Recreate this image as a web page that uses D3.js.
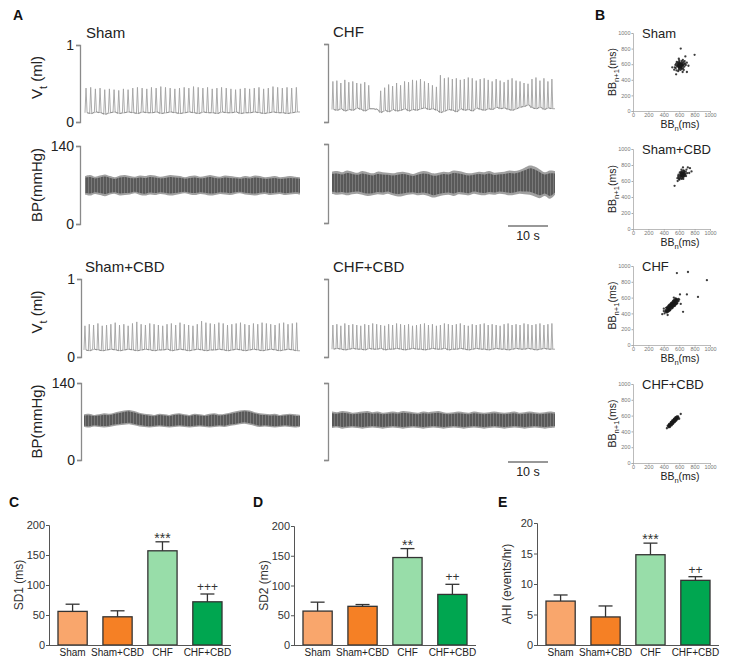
<!DOCTYPE html>
<html><head><meta charset="utf-8">
<script src="https://cdn.jsdelivr.net/npm/d3@7"></script>
<style>body{margin:0;background:#fff}</style>
</head><body><svg id="c" width="729" height="665"></svg>
<script>
// ---------------- DATA ----------------
const groups = ["Sham","Sham+CBD","CHF","CHF+CBD"];
const barColors = ["#F9A66C","#F58025","#98DDA9","#00A650"];
const sd1Mean = [56,47,157,72], sd1Err = [12,10,15,13], sd1Sig = ["","","***","+++"];
const sd2Mean = [57,65,147,85], sd2Err = [15,3,15,17], sd2Sig = ["","","**","++"];
const ahiMean = [7.2,4.6,14.8,10.6], ahiErr = [1.0,1.8,1.9,0.6], ahiSig = ["","","***","++"];
const sdTicks = [0,50,100,150,200], ahiTicks = [0,5,10,15,20];
const bbTicks = [0,200,400,600,800,1000];

// tidal volume, per-breath peak and trough (ml)
const shamVtPk = [0.44,0.45,0.43,0.44,0.42,0.43,0.42,0.41,0.43,0.42,0.44,0.45,0.44,0.43,0.45,0.44,0.46,0.45,0.44,0.43,0.44,0.45,0.44,0.46,0.45,0.44,0.45,0.43,0.44,0.45,0.44,0.43,0.42,0.43,0.44,0.43,0.44,0.45,0.43,0.44,0.46,0.45,0.44,0.45,0.44,0.45];
const shamVtTr = [0.12,0.11,0.13,0.12,0.10,0.12,0.13,0.11,0.12,0.13,0.12,0.11,0.13,0.12,0.12,0.13,0.11,0.12,0.13,0.12,0.11,0.12,0.13,0.12,0.11,0.13,0.12,0.12,0.11,0.13,0.12,0.12,0.13,0.11,0.12,0.12,0.13,0.12,0.11,0.12,0.13,0.12,0.12,0.11,0.12,0.13];
const chfVtPk = [0.52,0.53,0.50,0.54,0.51,0.52,0.50,0.49,0.51,0.47,0.17,0.17,0.40,0.44,0.48,0.46,0.50,0.47,0.52,0.51,0.54,0.53,0.55,0.52,0.50,0.47,0.45,0.60,0.56,0.57,0.55,0.56,0.54,0.55,0.57,0.56,0.53,0.55,0.56,0.54,0.52,0.55,0.53,0.51,0.54,0.56,0.53,0.52,0.50,0.49,0.55,0.57,0.53,0.56,0.52,0.55];
const chfVtTr = [0.16,0.15,0.17,0.14,0.16,0.15,0.18,0.16,0.14,0.17,0.17,0.16,0.12,0.15,0.13,0.16,0.14,0.15,0.17,0.14,0.16,0.15,0.17,0.18,0.16,0.17,0.15,0.12,0.14,0.16,0.15,0.13,0.17,0.15,0.16,0.14,0.18,0.16,0.15,0.17,0.16,0.19,0.17,0.18,0.16,0.15,0.17,0.19,0.20,0.22,0.18,0.17,0.19,0.16,0.18,0.17];
const shamCbdVtPk = [0.40,0.42,0.41,0.43,0.40,0.41,0.42,0.44,0.41,0.42,0.40,0.43,0.45,0.42,0.41,0.43,0.42,0.41,0.40,0.42,0.43,0.41,0.44,0.42,0.41,0.40,0.42,0.46,0.44,0.43,0.42,0.44,0.43,0.41,0.42,0.43,0.44,0.42,0.41,0.43,0.42,0.44,0.43,0.42,0.41,0.43,0.44,0.42,0.43,0.44];
const shamCbdVtTr = [0.09,0.08,0.10,0.09,0.08,0.09,0.10,0.09,0.08,0.09,0.10,0.09,0.08,0.09,0.10,0.09,0.08,0.09,0.09,0.10,0.08,0.09,0.10,0.09,0.08,0.09,0.10,0.09,0.08,0.09,0.09,0.10,0.09,0.08,0.09,0.10,0.09,0.08,0.09,0.10,0.09,0.08,0.09,0.10,0.09,0.08,0.09,0.10,0.09,0.08];
const chfCbdVtPk = [0.41,0.42,0.40,0.43,0.41,0.42,0.41,0.40,0.42,0.41,0.43,0.42,0.41,0.40,0.42,0.41,0.43,0.42,0.41,0.42,0.40,0.41,0.42,0.43,0.41,0.42,0.40,0.41,0.43,0.42,0.41,0.42,0.43,0.41,0.40,0.42,0.41,0.42,0.43,0.41,0.42,0.41,0.40,0.42,0.43,0.41,0.42,0.41,0.43,0.42,0.41,0.42,0.43,0.41,0.42,0.43];
const chfCbdVtTr = [0.10,0.11,0.10,0.09,0.10,0.11,0.10,0.10,0.09,0.11,0.10,0.10,0.11,0.09,0.10,0.10,0.11,0.10,0.09,0.10,0.11,0.10,0.10,0.09,0.10,0.11,0.10,0.10,0.11,0.09,0.10,0.10,0.11,0.10,0.09,0.10,0.11,0.10,0.10,0.09,0.10,0.11,0.10,0.10,0.09,0.10,0.11,0.10,0.10,0.11,0.10,0.09,0.10,0.11,0.10,0.10];

// blood pressure envelope (mmHg), upper and lower
const shamBpHi = [86,88,85,87,89,86,84,87,88,86,85,87,86,88,87,85,86,88,87,86,84,86,87,85,86,88,86,85,87,86,85,84,86,85,87,86,84,85,86,84,85,86,85,84];
const shamBpLo = [53,51,54,52,50,53,54,51,52,53,55,52,51,53,52,54,53,51,52,54,55,53,52,54,53,51,52,54,53,52,54,55,53,52,51,53,54,52,53,54,52,53,54,53];
const chfBpHi = [91,92,90,93,91,89,92,90,88,91,90,89,88,90,91,89,87,90,92,91,88,89,91,90,93,92,90,88,89,91,90,92,89,90,91,93,92,94,98,102,100,95,90,93,92];
const chfBpLo = [52,50,51,49,51,52,50,48,49,51,50,52,49,47,48,50,51,49,50,48,45,47,49,50,48,51,50,49,52,50,49,51,50,52,51,49,50,52,51,50,47,44,48,43,50];
const shamCbdBpHi = [83,84,82,83,85,84,86,88,90,91,89,86,84,83,82,84,83,82,84,85,83,82,84,83,82,84,85,83,84,86,88,90,91,90,87,85,84,83,84,82,83,84,83,82];
const shamCbdBpLo = [60,59,61,60,59,60,62,63,64,65,63,61,60,59,60,61,60,59,60,61,60,59,60,61,60,59,60,61,60,62,63,65,66,64,62,60,61,60,59,60,61,60,59,60];
const chfCbdBpHi = [88,87,89,88,86,87,88,89,87,88,86,87,88,87,89,88,87,86,88,87,88,89,87,86,87,88,87,86,88,87,86,87,88,87,86,87,88,86,87,88,87,86,87,88,87];
const chfCbdBpLo = [58,59,57,58,59,58,57,58,59,58,57,58,59,58,57,58,59,58,57,58,59,58,57,58,59,58,57,58,59,58,57,58,59,58,57,58,59,58,57,58,59,58,57,58,59];

// Poincare plots: [BBn, BBn+1] (ms)
const shamBB = [[555,550],[571,574],[585,600],[595,530],[599,630],[611,586],[619,560],[625,610],[635,540],[645,580],[655,626],[579,620],[565,520],[591,560],[607,606],[617,526],[631,640],[641,594],[651,550],[661,600],[551,590],[569,630],[587,510],[601,650],[615,570],[627,586],[639,620],[667,570],[675,610],[543,560],[577,586],[593,614],[603,546],[621,596],[633,566],[647,654],[659,526],[561,606],[589,580],[609,620],[623,550],[637,600],[653,586],[671,640],[685,590],[535,530],[699,620],[595,670],[645,500],
  [600,575],[610,585],[620,578],[605,565],[615,595],[625,590],[595,585],[612,570],[618,600],[602,592],[608,578],[622,565],[598,568],[630,580],[590,575],[614,560],[606,600],[626,605],[594,598],[616,588],[604,582],[620,570],[611,592],[597,555],[628,595],
  [620,800],[800,720],[680,700],[510,560],[720,580],[560,470],[700,500]];
const shamCbdBB = [[595,644],[609,671],[622,698],[631,626],[640,720],[649,680],[658,653],[667,707],[617,689],[602,617],[627,662],[636,694],[645,640],[654,734],[663,671],[676,689],[685,716],[586,662],[608,707],[620,635],[635,676],[644,698],[653,626],[665,725],[672,662],[694,743],[703,698],[591,680],[613,653],[626,716],[638,653],[651,689],[660,707],[681,680],[599,626],[629,743],[649,770],[689,662],[577,635],[712,770],
  [640,680],[632,672],[648,688],[636,690],[644,666],[652,676],[628,684],[646,700],[638,660],[656,694],[624,668],[642,676],[650,662],[634,698],[660,684],
  [540,540],[580,600],[740,760],[730,700],[760,720]];
const chfBB = [[420,420],[430,432],[440,445],[445,430],[450,460],[455,448],[460,470],[465,455],[470,480],[475,468],[480,490],[485,475],[490,500],[495,488],[500,505],[505,495],[510,515],[515,500],[520,525],[525,512],[530,535],[535,522],[540,545],[545,530],[550,555],[555,540],[560,560],[565,548],[570,575],[580,565],[425,440],[435,420],[448,470],[458,440],[468,495],[478,460],[488,515],[498,480],[508,530],[518,495],[528,545],[538,510],[548,565],[558,528],[568,580],[440,410],[452,425],[462,485],[472,445],[482,505],[492,470],[502,520],[512,485],[522,540],[532,505],[542,555],[552,520],[562,570],[575,550],[590,585],
  [430,470],[445,480],[460,495],[475,510],[490,525],[505,540],[520,555],[535,570],[550,585],[440,470],[455,420],[470,430],[485,445],[500,460],[515,470],[530,490],[545,500],[560,515],[575,530],[590,555],[600,575],[410,400],[400,430],[465,500],[495,530],[525,560],[555,590],[480,440],[510,475],[540,495],[570,525],
  [570,910],[714,924],[960,820],[844,608],[650,420],[380,390],[620,520],[400,460],[610,640],[700,640],[450,380],[530,600]];
const chfCbdBB = [[460,460],[468,470],[475,478],[480,470],[485,490],[490,482],[495,500],[500,492],[505,510],[510,502],[515,520],[520,512],[525,530],[530,522],[535,540],[540,532],[545,550],[550,542],[555,560],[560,552],[565,570],[570,560],[575,578],[580,572],[470,480],[478,466],[488,498],[498,485],[508,518],[518,505],[528,538],[538,525],[548,556],[558,545],[568,575],[500,515],[520,530],[540,548],[560,565],[550,565],[530,545],[510,525],[490,505],[472,488],[465,452],[585,590],
  [470,495],[490,515],[510,535],[530,555],[550,575],[480,455],[500,475],[520,495],[540,515],[560,535],[580,555],[495,520],[515,540],[535,560],[555,580],[505,485],[525,505],[545,525],[565,545],[460,480],[570,590],[590,575],
  [620,620],[440,440],[600,560],[450,470]];

// ---------------- DRAWING ----------------
const FONT = "'Liberation Sans', Arial, Helvetica, sans-serif";
const svg = d3.select("#c").style("font-family", FONT);
svg.append("rect").attr("width",729).attr("height",665).attr("fill","#fff");
const defs = svg.append("defs");
const pat = defs.append("pattern").attr("id","bpTex").attr("patternUnits","userSpaceOnUse")
  .attr("width",3).attr("height",5);
pat.append("rect").attr("width",3).attr("height",5).attr("fill","#595959");
pat.append("line").attr("x1",1.5).attr("x2",1.5).attr("y1",0).attr("y2",5)
  .attr("stroke","#7d7d7d").attr("stroke-width",0.9);

function panelLetter(t, x, y){
  svg.append("text").attr("x",x).attr("y",y).text(t)
    .attr("font-size",14).attr("font-weight","bold").attr("fill","#111");
}

function subLabel(g, parts, size){
  const t = g.append("text").attr("font-size", size).attr("fill","#222");
  let shifted = false;
  parts.forEach(([s, sub]) => {
    const sp = t.append("tspan").text(s);
    if (sub && !shifted){ sp.attr("dy", size*0.3).attr("font-size", size*0.72); shifted = true; }
    else if (!sub && shifted){ sp.attr("dy", -size*0.3); shifted = false; }
  });
  return t;
}

function tracePanel(o){
  const g = svg.append("g");
  const yV = d3.scaleLinear().domain([0,1]).range(o.vtY);
  const yB = d3.scaleLinear().domain([0,140]).range(o.bpY);
  const axV = d3.axisLeft(yV).tickValues([0,1]).tickSize(4).tickPadding(2)
      .tickFormat(o.ticks ? d3.format("d") : () => "");
  const axB = d3.axisLeft(yB).tickValues([0,140]).tickSize(4).tickPadding(2)
      .tickFormat(o.ticks ? d3.format("d") : () => "");
  [axV, axB].forEach(ax => {
    const a = g.append("g").attr("transform",`translate(${o.axisX},0)`).call(ax);
    a.select(".domain").attr("stroke","#8a8a8a").attr("stroke-width",1.3);
    a.selectAll(".tick line").attr("stroke","#8a8a8a").attr("stroke-width",1.3);
    a.selectAll("text").attr("font-size",14).attr("fill","#222").attr("font-family",FONT);
  });
  // breathing trace
  const n = o.vtPk.length;
  const xs = d3.scaleLinear().domain([0,n]).range([o.x0, o.x1]);
  const pts = [];
  o.vtPk.forEach((pk, i) => {
    const tr = o.vtTr[i];
    pts.push([xs(i), yV(tr)]);
    pts.push([xs(i+0.22), yV(pk)]);
    pts.push([xs(i+0.45), yV(tr)]);
  });
  pts.push([xs(n), yV(o.vtTr[n-1])]);
  g.append("path").attr("d", d3.line()(pts)).attr("fill","none")
    .attr("stroke","#a2a2a2").attr("stroke-width",0.9);
  g.append("path").attr("d", d3.line()(o.vtTr.map((tr,i)=>[xs(i+0.45), yV(tr)])))
    .attr("fill","none").attr("stroke","#555").attr("stroke-width",0.6).attr("opacity",0.6);
  // BP trace
  const m = o.bpHi.length;
  const xb = d3.scaleLinear().domain([0,m-1]).range([o.x0, o.x1]);
  const area = d3.area().x((d,i)=>xb(i)).y0(d=>yB(d[0])).y1(d=>yB(d[1])).curve(d3.curveCatmullRom);
  const env = o.bpHi.map((h,i)=>[o.bpLo[i], h]);
  g.append("path").attr("d", area(env)).attr("fill","#a0a0a0");
  const inner = env.map(([lo,hi]) => { const mid=(lo+hi)/2; return [mid-(mid-lo)*0.8, mid+(hi-mid)*0.8]; });
  g.append("path").attr("d", area(inner)).attr("fill","url(#bpTex)");
  // labels
  g.append("text").attr("x",o.x0+1).attr("y",o.vtY[1]-7).text(o.label)
    .attr("font-size",15).attr("fill","#222");
  if (o.ticks){
    const yl1 = subLabel(g, [["V",false],["t",true],[" (ml)",false]], 15);
    const cy = (o.vtY[0]+o.vtY[1])/2 - 6;
    yl1.attr("transform",`translate(42,${cy}) rotate(-90)`).attr("text-anchor","middle");
    const cb = (o.bpY[0]+o.bpY[1])/2;
    g.append("text").attr("transform",`translate(42,${cb}) rotate(-90)`).attr("text-anchor","middle")
      .attr("font-size",15).attr("fill","#222").text("BP(mmHg)");
  }
  if (o.scaleBar){
    const sb = d3.scaleLinear().domain([0,10]).range([508,548]);
    g.append("line").attr("x1",sb(0)).attr("x2",sb(10)).attr("y1",o.scaleBar).attr("y2",o.scaleBar)
      .attr("stroke","#333").attr("stroke-width",1.2);
    g.append("text").attr("x",sb(5)).attr("y",o.scaleBar+14).attr("text-anchor","middle")
      .attr("font-size",12.5).attr("fill","#222").text("10 s");
  }
}

panelLetter("A", 13, 20);
tracePanel({vtPk:shamVtPk, vtTr:shamVtTr, bpHi:shamBpHi, bpLo:shamBpLo, x0:85, x1:300, axisX:80,
  vtY:[122,45], bpY:[224,146], label:"Sham", ticks:true});
tracePanel({vtPk:chfVtPk, vtTr:chfVtTr, bpHi:chfBpHi, bpLo:chfBpLo, x0:332, x1:555, axisX:328,
  vtY:[122,44], bpY:[223,144], label:"CHF", ticks:false, scaleBar:226});
tracePanel({vtPk:shamCbdVtPk, vtTr:shamCbdVtTr, bpHi:shamCbdBpHi, bpLo:shamCbdBpLo, x0:84, x1:300, axisX:81,
  vtY:[357,279], bpY:[460,383], label:"Sham+CBD", ticks:true});
tracePanel({vtPk:chfCbdVtPk, vtTr:chfCbdVtTr, bpHi:chfCbdBpHi, bpLo:chfCbdBpLo, x0:332, x1:555, axisX:328,
  vtY:[357,279], bpY:[460,383], label:"CHF+CBD", ticks:false, scaleBar:462});

// ---- Panel B: Poincare plots
panelLetter("B", 595, 20);
function poincare(data, label, yTop, yBot){
  const g = svg.append("g");
  const x = d3.scaleLinear().domain([0,1000]).range([633,710]);
  const y = d3.scaleLinear().domain([0,1000]).range([yBot,yTop]);
  const ax = g.append("g").attr("transform",`translate(0,${yBot})`)
    .call(d3.axisBottom(x).tickValues(bbTicks).tickSize(1.5).tickPadding(1).tickFormat(d3.format("d")));
  const ay = g.append("g").attr("transform",`translate(633,0)`)
    .call(d3.axisLeft(y).tickValues(bbTicks).tickSize(1.5).tickPadding(1).tickFormat(d3.format("d")));
  [ax, ay].forEach(a => {
    a.select(".domain").attr("stroke","#aaa").attr("stroke-width",0.8);
    a.selectAll(".tick line").attr("stroke","#aaa");
    a.selectAll("text").attr("font-size",5.5).attr("fill","#777").attr("font-family",FONT);
  });
  g.selectAll("circle.p").data(data).join("circle").attr("class","p")
    .attr("cx",d=>x(d[0])).attr("cy",d=>y(d[1])).attr("r",1.15)
    .attr("fill","#1a1a1a").attr("opacity",0.85);
  g.append("text").attr("x",642).attr("y",yTop+5).text(label).attr("font-size",13).attr("fill","#222");
  const xl = subLabel(g, [["BB",false],["n",true],["(ms)",false]], 10.5);
  xl.attr("x",680).attr("y",yBot+17).attr("text-anchor","middle");
  const yl = subLabel(g, [["BB",false],["n+1",true],["(ms)",false]], 10.5);
  yl.attr("transform",`translate(616,${(yTop+yBot)/2}) rotate(-90)`).attr("text-anchor","middle");
}
poincare(shamBB, "Sham", 33, 111);
poincare(shamCbdBB, "Sham+CBD", 149, 229);
poincare(chfBB, "CHF", 266, 345);
poincare(chfCbdBB, "CHF+CBD", 384, 463);

// ---- Bar charts
function barChart(o){
  const g = svg.append("g");
  const x = d3.scaleBand().domain(groups).range([o.ax, o.ax+182]).paddingInner(0.35).paddingOuter(0.2);
  const y = d3.scaleLinear().domain([0, o.max]).range([645, o.top]);
  g.selectAll("rect.b").data(groups).join("rect").attr("class","b")
    .attr("x",d=>x(d)).attr("width",x.bandwidth())
    .attr("y",(d,i)=>y(o.mean[i])).attr("height",(d,i)=>y(0)-y(o.mean[i]))
    .attr("fill",(d,i)=>barColors[i]).attr("stroke","#333").attr("stroke-width",1.3);
  groups.forEach((gr,i) => {
    const cx = x(gr)+x.bandwidth()/2;
    const yt = y(o.mean[i]+o.err[i]);
    g.append("line").attr("x1",cx).attr("x2",cx).attr("y1",y(o.mean[i])).attr("y2",yt)
      .attr("stroke","#333").attr("stroke-width",1.3);
    g.append("line").attr("x1",cx-7).attr("x2",cx+7).attr("y1",yt).attr("y2",yt)
      .attr("stroke","#333").attr("stroke-width",1.3);
    const s = o.sig[i];
    if (s) {
      const star = s[0] === "*";
      g.append("text").attr("x",cx).attr("y",star ? yt+1 : yt-3).attr("text-anchor","middle")
        .attr("font-size",star ? 14 : 12).attr("fill","#333").text(s);
    }
    g.append("text").attr("x",cx).attr("y",656).attr("text-anchor","middle")
      .attr("font-size",10).attr("fill","#222").text(gr);
  });
  const ay = g.append("g").attr("transform",`translate(${o.ax},0)`)
    .call(d3.axisLeft(y).tickValues(o.ticks).tickSize(3).tickPadding(1));
  ay.select(".domain").attr("stroke","#555");
  ay.selectAll(".tick line").attr("stroke","#555");
  ay.selectAll("text").attr("font-size",11).attr("fill","#333").attr("font-family",FONT);
  g.append("line").attr("x1",o.ax).attr("x2",o.ax+182).attr("y1",645.5).attr("y2",645.5)
    .attr("stroke","#555");
  g.append("text").attr("transform",`translate(${o.ax-26},${(645+o.top)/2}) rotate(-90)`)
    .attr("text-anchor","middle").attr("font-size",12).attr("fill","#333").text(o.ylab);
  panelLetter(o.letter, o.lx, 507);
}
barChart({ax:49, top:525, max:200, ticks:sdTicks, mean:sd1Mean, err:sd1Err, sig:sd1Sig, ylab:"SD1 (ms)", letter:"C", lx:9});
barChart({ax:294, top:526, max:200, ticks:sdTicks, mean:sd2Mean, err:sd2Err, sig:sd2Sig, ylab:"SD2 (ms)", letter:"D", lx:253});
barChart({ax:537, top:523, max:20, ticks:ahiTicks, mean:ahiMean, err:ahiErr, sig:ahiSig, ylab:"AHI (events/hr)", letter:"E", lx:498});
</script></body></html>
